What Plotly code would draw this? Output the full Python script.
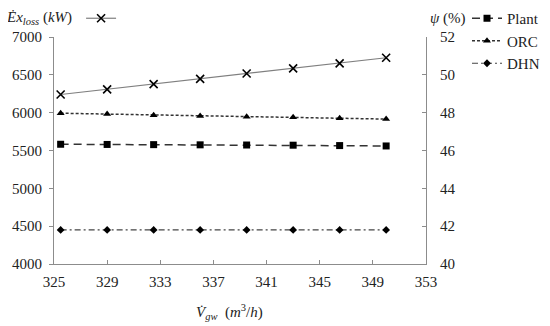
import plotly.graph_objects as go

flow = [325.5, 329, 332.5, 336, 339.5, 343, 346.5, 350]
ex_loss = [6240, 6308, 6378, 6446, 6518, 6586, 6652, 6726]
psi_plant = [46.33, 46.32, 46.31, 46.30, 46.29, 46.28, 46.26, 46.24]
psi_orc = [47.97, 47.93, 47.87, 47.83, 47.79, 47.76, 47.71, 47.66]
psi_dhn = [41.8, 41.8, 41.8, 41.8, 41.8, 41.8, 41.8, 41.8]

FONT = "Liberation Serif"
AX = "#8c8c8c"

# page body has an 8px margin: layout below is expressed in figure pixels
L, T, R, B, W, H = 46, 29, 124, 62, 542, 318
PW, PH = W - L - R, H - T - B


def px_x(px):
    return (px - L) / PW


def px_y(py):
    return (H - B - py) / PH


fig = go.Figure()
fig.add_trace(go.Scatter(
    x=flow, y=ex_loss, name="", mode="lines+markers", legend="legend2",
    line=dict(color="#7f7f7f", width=1.2),
    marker=dict(symbol="x-thin-open", size=8, color="black", line=dict(width=1.6, color="black")),
))
fig.add_trace(go.Scatter(
    x=flow, y=psi_plant, name="Plant", mode="lines+markers", yaxis="y2",
    line=dict(color="#333333", width=1.5, dash="8px,5px"),
    marker=dict(symbol="square", size=7, color="black"),
))
fig.add_trace(go.Scatter(
    x=flow, y=psi_orc, name="ORC", mode="lines+markers", yaxis="y2",
    line=dict(color="#333333", width=1.5, dash="3px,2px"),
    marker=dict(symbol="triangle-up", size=7, color="black"),
))
fig.add_trace(go.Scatter(
    x=flow, y=psi_dhn, name="DHN", mode="lines+markers", yaxis="y2",
    line=dict(color="#444444", width=1.2, dash="6px,3px,2px,3px"),
    marker=dict(symbol="diamond", size=6, color="black"),
))

fig.update_layout(
    width=W, height=H,
    margin=dict(l=L, r=R, t=T, b=B, autoexpand=False),
    paper_bgcolor="white", plot_bgcolor="white",
    font=dict(family=FONT, size=15, color="#222222"),
    xaxis=dict(
        range=[325, 353], dtick=4, tick0=325, showgrid=False, zeroline=False,
        showline=True, linecolor=AX, linewidth=1, ticks="inside", ticklen=4, tickcolor=AX,
        automargin=False, ticklabelstandoff=4,
    ),
    yaxis=dict(
        range=[4000, 7000], dtick=500, showgrid=False, zeroline=False,
        showline=True, linecolor=AX, linewidth=1, ticks="outside", ticklen=4, tickcolor=AX,
        automargin=False, ticklabelstandoff=4,
    ),
    yaxis2=dict(
        range=[40, 52], dtick=2, overlaying="y", side="right", showgrid=False, zeroline=False,
        showline=True, linecolor=AX, linewidth=1, ticks="inside", ticklen=4, tickcolor=AX,
        automargin=False, ticklabelstandoff=10,
    ),
    legend=dict(
        x=px_x(459), y=px_y(-6), xanchor="left", yanchor="top", bgcolor="rgba(0,0,0,0)",
        font=dict(family=FONT, size=15), tracegroupgap=0, itemwidth=30,
    ),
    legend2=dict(
        x=px_x(-3), y=px_y(-6), xanchor="left", yanchor="top", bgcolor="rgba(0,0,0,0)",
        orientation="h", font=dict(family=FONT, size=15),
        title=dict(text="<i>Ėx</i><sub><i>loss</i></sub> (<i>kW</i>)", side="left",
                   font=dict(family=FONT, size=15)),
    ),
    annotations=[
        dict(text="<i>ψ</i> (%)", xref="paper", yref="paper", x=px_x(420), y=px_y(10),
             xanchor="left", yanchor="middle", showarrow=False, font=dict(family=FONT, size=15)),
        dict(text="<i>V\u0307</i><sub><i>gw</i></sub>  (<i>m</i><sup>3</sup>/<i>h</i>)", xref="paper", yref="paper",
             x=px_x(221), y=px_y(304), xanchor="center", yanchor="middle", showarrow=False,
             font=dict(family=FONT, size=15)),
    ],
)

fig.write_html("out.html")
